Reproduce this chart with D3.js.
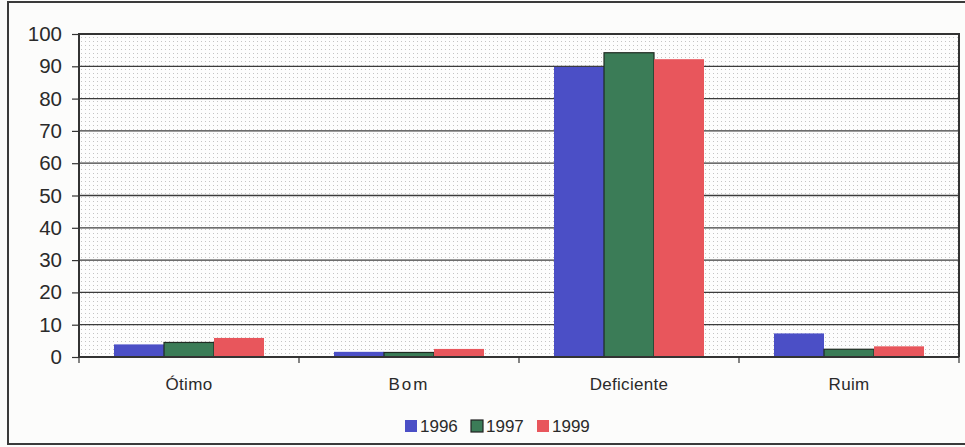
<!DOCTYPE html>
<html>
<head>
<meta charset="utf-8">
<script src="https://cdn.jsdelivr.net/npm/d3@7"></script>
<style>
  html, body { margin: 0; padding: 0; background: #fcfcfb; }
  svg { display: block; font-family: "Liberation Sans", Arial, sans-serif; }
</style>
</head>
<body>
<svg id="chart" width="965" height="447"></svg>
<script>
const categories = ["Ótimo", "Bom", "Deficiente", "Ruim"];
const seriesNames = ["1996", "1997", "1999"];
const values1996 = [3.9, 1.6, 89.8, 7.3];
const values1997 = [4.5, 1.4, 94.2, 2.4];
const values1999 = [5.9, 2.5, 92.2, 3.3];
const yTicks = [0, 10, 20, 30, 40, 50, 60, 70, 80, 90, 100];
const seriesColors = ["#4b4fc6", "#3b7c57", "#e8565c"];

const series = [values1996, values1997, values1999];
const rows = categories.map((c, i) => ({ category: c, vals: series.map(s => s[i]) }));

const svg = d3.select("#chart");
const plot = { left: 79, top: 34, right: 959, bottom: 357 };

// outer frame
svg.append("rect").attr("x", 8).attr("y", 2).attr("width", 970).attr("height", 442)
  .attr("fill", "none").attr("stroke", "#3a3a3a").attr("stroke-width", 2);

const x = d3.scaleBand().domain(categories).range([plot.left, plot.right]).paddingInner(0).paddingOuter(0);
const xInner = d3.scaleBand().domain(seriesNames).range([0, x.bandwidth()]).paddingOuter(0.7);
const y = d3.scaleLinear().domain([0, 100]).range([plot.bottom, plot.top]);

// dotted background of the plot area
const defs = svg.append("defs");
const pat = defs.append("pattern").attr("id", "dots").attr("patternUnits", "userSpaceOnUse")
  .attr("width", 4).attr("height", 4);
pat.append("rect").attr("width", 4).attr("height", 4).attr("fill", "#fdfdfd");
pat.append("rect").attr("x", 1).attr("y", 1).attr("width", 1).attr("height", 1).attr("fill", "#c4c4c4");

svg.append("rect").attr("x", plot.left).attr("y", plot.top)
  .attr("width", plot.right - plot.left).attr("height", plot.bottom - plot.top)
  .attr("fill", "url(#dots)");

// horizontal gridlines
svg.append("g").selectAll("line").data(yTicks.filter(t => t > 0 && t < 100)).join("line")
  .attr("x1", plot.left).attr("x2", plot.right)
  .attr("y1", d => y(d)).attr("y2", d => y(d))
  .attr("stroke", "#3c3c3c").attr("stroke-width", 1.3);

// bars
const groups = svg.append("g").selectAll("g").data(rows).join("g")
  .attr("transform", d => `translate(${x(d.category)},0)`);
groups.selectAll("rect").data(d => d.vals.map((v, i) => ({ v, i }))).join("rect")
  .attr("x", d => xInner(seriesNames[d.i]))
  .attr("width", xInner.bandwidth())
  .attr("y", d => y(d.v))
  .attr("height", d => y(0) - y(d.v))
  .attr("fill", d => seriesColors[d.i])
  .attr("stroke", d => d.i === 1 ? "#1f2b22" : "none")
  .attr("stroke-width", 1.2);

// plot border (left, top, right)
svg.append("path")
  .attr("d", `M${plot.left},${plot.bottom}V${plot.top}H${plot.right}V${plot.bottom}`)
  .attr("fill", "none").attr("stroke", "#333").attr("stroke-width", 2);

// y axis
const yAxis = d3.axisLeft(y).tickValues(yTicks).tickSize(7).tickPadding(10);
const gy = svg.append("g").attr("transform", `translate(${plot.left},0)`).call(yAxis);
gy.select(".domain").remove();
gy.selectAll(".tick line").attr("stroke", "#333").attr("stroke-width", 1.2);
gy.selectAll(".tick text").attr("font-size", 20.5).attr("fill", "#2a2a2a")
  .attr("font-family", "'Liberation Sans', Arial, sans-serif");

// x axis
const gx = svg.append("g").attr("transform", `translate(0,${plot.bottom})`);
gx.append("line").attr("x1", plot.left).attr("x2", plot.right)
  .attr("stroke", "#333").attr("stroke-width", 2);
const boundaries = categories.map(c => x(c)).concat([plot.right]);
gx.selectAll("line.tk").data(boundaries).join("line").attr("class", "tk")
  .attr("x1", d => d).attr("x2", d => d).attr("y1", 0).attr("y2", 6)
  .attr("stroke", "#333").attr("stroke-width", 1.2);
gx.selectAll("text").data(categories).join("text")
  .attr("x", d => x(d) + x.bandwidth() / 2)
  .attr("y", 33)
  .attr("text-anchor", "middle")
  .attr("font-size", 17)
  .attr("fill", "#2a2a2a")
  .attr("letter-spacing", d => d === "Bom" ? "2px" : "0.3px")
  .text(d => d);

// legend
const legend = svg.append("g").attr("transform", "translate(405,420)");
const legendX = [0, 66, 132];
seriesNames.forEach((name, i) => {
  const g = legend.append("g").attr("transform", `translate(${legendX[i]},0)`);
  g.append("rect").attr("width", 12).attr("height", 12)
    .attr("fill", seriesColors[i])
    .attr("stroke", i === 1 ? "#222" : "none").attr("stroke-width", 1.2);
  g.append("text").attr("x", 15).attr("y", 12).attr("font-size", 17)
    .attr("fill", "#2a2a2a").text(name);
});
</script>
</body>
</html>
